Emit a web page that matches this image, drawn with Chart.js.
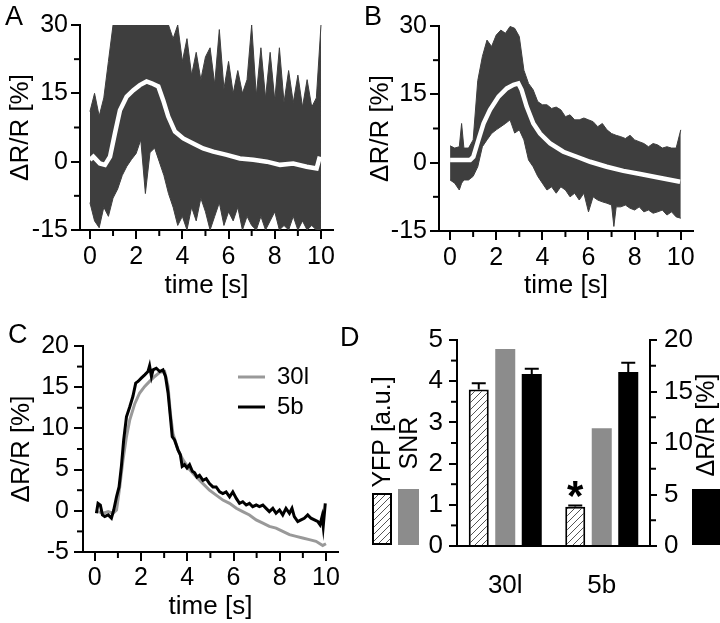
<!DOCTYPE html>
<html>
<head>
<meta charset="utf-8">
<script src="https://cdn.jsdelivr.net/npm/chart.js@4.4.1/dist/chart.umd.min.js"></script>
<style>
  body { margin: 0; background: #fff; width: 720px; height: 623px; position: relative; overflow: hidden; }
  canvas { position: absolute; }
  .panel { position: absolute; font: 27px "Liberation Sans", Arial, sans-serif; line-height: 1; color: #000; }
</style>
</head>
<body>
<canvas id="chartA" width="360" height="310" style="left:0;top:0"></canvas>
<canvas id="chartB" width="360" height="310" style="left:360px;top:0"></canvas>
<canvas id="chartC" width="360" height="313" style="left:0;top:310px"></canvas>
<canvas id="chartD" width="360" height="313" style="left:360px;top:310px"></canvas>
<div class="panel" style="left:5px;top:3px">A</div>
<div class="panel" style="left:364px;top:3px">B</div>
<div class="panel" style="left:8px;top:321px">C</div>
<div class="panel" style="left:340px;top:324px">D</div>
<script>
// ---- data ----
const tickT = [0, 2, 4, 6, 8, 10];
const minorT = [1, 3, 5, 7, 9];

// A: all traces (band) and mean
const bandA_t = [0, 0.2, 0.4, 0.6, 0.8, 1, 1.2, 1.4, 1.6, 1.8,
  2, 2.2, 2.4, 2.6, 2.8, 3, 3.2, 3.4, 3.6, 3.8,
  4, 4.2, 4.4, 4.6, 4.8, 5, 5.2, 5.4, 5.6, 5.8,
  6, 6.2, 6.4, 6.6, 6.8, 7, 7.2, 7.4, 7.6, 7.8,
  8, 8.2, 8.4, 8.6, 8.8, 9, 9.2, 9.4, 9.6, 9.8, 10];
const bandA_hi = [11, 15, 10, 14, 22, 30, 30, 30, 30, 30,
  30, 30, 30, 30, 30, 30, 30, 30, 27, 30,
  22, 27, 19, 24, 18, 23, 25, 17, 29, 16,
  22, 15, 20, 15, 18, 30, 14.5, 25, 14, 24,
  13.5, 25, 13, 20, 13, 19, 12, 18, 12, 14, 30];
const bandA_lo = [-9, -13, -14.5, -10, -12, -8, -6, -3, -1, 0.5,
  1.8, 4.8, -7, 2, 3, 0, -3, -7, -10, -14,
  -12, -15, -10, -13, -8, -11, -15, -12, -9, -14,
  -11, -13, -10, -15, -12, -14, -15, -12, -15, -13,
  -11, -15, -14, -15, -12, -15, -13, -15, -14, -15, -15];
const meanA_t = [0, 0.15, 0.43, 0.65, 0.87, 1.08, 1.3, 1.59, 1.88, 2.16, 2.45, 2.67, 2.96, 3.17, 3.39,
  3.68, 4.04, 4.47, 4.9, 5.34, 5.92, 6.49, 7.07, 7.65, 8.23, 8.8, 9.38, 9.81, 9.95];
const meanA = [0.4, 1.1, -0.4, -0.7, 1.1, 6.2, 11.3, 14.3, 15.7, 16.8, 17.6, 17.2, 16.5, 13.5, 9.9,
  6.6, 5.1, 4.0, 2.9, 2.2, 1.5, 0.7, 0.4, 0, -0.7, -0.4, -1.1, -1.5, 1.1];

// B
const bandB_t = [0, 0.2, 0.4, 0.5, 0.6, 0.8, 1, 1.2, 1.4, 1.6,
  1.8, 2, 2.2, 2.4, 2.6, 2.8, 3, 3.2, 3.4, 3.6,
  3.8, 4, 4.2, 4.4, 4.6, 4.8, 5, 5.2, 5.4, 5.6,
  5.8, 6, 6.2, 6.4, 6.6, 6.8, 7, 7.1, 7.2, 7.4,
  7.6, 7.8, 8, 8.2, 8.4, 8.6, 8.8, 9, 9.2, 9.4,
  9.6, 9.8, 10];
const bandB_hi = [3.7, 3.2, 3.5, 8.6, 3.2, 3.2, 5, 18, 23.3, 26.9,
  25.5, 28, 29.1, 28.4, 29.9, 29.5, 27.7, 20.3, 17.4, 16,
  13.4, 12.7, 12.7, 11.9, 12.2, 11.6, 10.1, 10.5, 9.4, 9.4,
  9.8, 9.4, 9, 7.9, 8.6, 7.2, 6.4, 6.2, 6, 5.7,
  5.3, 6, 5, 4.6, 4.2, 3.5, 4.2, 3.9, 3.2, 3.5,
  3.2, 3.2, 7.2];
const bandB_lo = [-3.8, -4.5, -6, -4.5, -3.8, -3.8, -3, -0.9, 3.5, 5,
  6.4, 7.2, 7.9, 8.6, 9.4, 6.5, 7.2, 5, 0.6, -0.9,
  -3, -4.5, -6, -5.3, -6.7, -5.3, -6, -7.5, -6.7, -8.2,
  -6.7, -10.8, -7.5, -8.2, -8.6, -8.9, -9.3, -14, -9.7, -9.7,
  -9.3, -10, -10.4, -9.7, -10.8, -10.4, -11.1, -10.8, -10.4, -11.5,
  -10.8, -11.9, -12.2];
const meanB_t = [0, 0.87, 1.01, 1.23, 1.45, 1.73, 2.1, 2.46, 2.75, 2.96, 3.1, 3.32,
  3.61, 3.9, 4.34, 4.91, 5.49, 6.07, 6.79, 7.51, 8.24, 8.96, 9.97];
const meanB = [0.6, 0.6, 1.3, 5, 8.6, 11.6, 14.5, 16.3, 17.1, 17.4, 16, 12.3,
  8.6, 6.4, 4.2, 2.4, 1.3, 0.2, -0.9, -1.8, -2.5, -3.2, -4.2];

// C: averaged traces
const c5b_t = [0.07, 0.14, 0.24, 0.33, 0.43, 0.58, 0.72, 0.82, 0.94, 1.05,
  1.15, 1.25, 1.37, 1.51, 1.65, 1.77, 1.87, 2.01, 2.16, 2.3,
  2.37, 2.45, 2.52, 2.66, 2.81, 2.95, 3.06, 3.17, 3.27, 3.35,
  3.45, 3.6, 3.7, 3.78, 3.88, 3.99, 4.1, 4.22, 4.32, 4.42,
  4.53, 4.68, 4.82, 4.96, 5.11, 5.25, 5.4, 5.54, 5.68, 5.83,
  5.97, 6.12, 6.26, 6.4, 6.55, 6.69, 6.83, 6.98, 7.12, 7.27,
  7.41, 7.55, 7.7, 7.84, 7.99, 8.13, 8.27, 8.42, 8.53, 8.63,
  8.78, 8.92, 9.06, 9.21, 9.35, 9.5, 9.64, 9.74, 9.83, 9.88, 9.97];
const c5b = [-0.3, 0.9, 0.7, -0.5, -0.7, -0.5, -0.9, 0.1, 1.7, 2.9,
  5.4, 8.6, 11.4, 12.6, 13.9, 15.5, 15.7, 16.1, 16.5, 16.9,
  17.6, 16.3, 17.1, 17.3, 16.9, 17.1, 16.3, 14.3, 11.4, 9,
  8.6, 7.4, 6.8, 5.4, 5.6, 5.2, 5.6, 4.8, 4.6, 4.1,
  4.3, 3.7, 3.9, 3.3, 2.9, 2.9, 2.3, 2.1, 2.3, 1.7,
  2.3, 1.5, 0.9, 1.1, 0.7, 0.9, 0.5, 0.7, 0.5, 0.7,
  0.3, -0.1, 0.3, -0.3, 0.1, -0.5, 0.3, -0.3, 0.3, -0.7,
  -1.3, -1.1, -0.9, -0.5, -0.9, -1.1, -1.3, -1.7, -0.7, -1.9, 0.9];
const c30_t = [0.14, 0.36, 0.58, 0.79, 0.94, 1.08, 1.22, 1.37, 1.51, 1.73,
  1.94, 2.16, 2.37, 2.59, 2.81, 3.02, 3.17, 3.27, 3.38, 3.6,
  3.81, 4.1, 4.39, 4.68, 4.96, 5.25, 5.54, 5.83, 6.12, 6.4,
  6.69, 6.98, 7.27, 7.55, 7.84, 8.13, 8.42, 8.71, 8.99, 9.28,
  9.57, 9.86, 10];
const c30 = [-0.1, -0.3, -0.1, -0.3, 0.1, 2.9, 6.2, 9, 11, 13,
  14.3, 15.1, 15.7, 16.3, 16.8, 16.9, 15.1, 11.8, 9.4, 7.4,
  6.2, 5, 4.1, 3.3, 2.5, 1.9, 1.3, 0.9, 0.3, -0.1,
  -0.5, -1.1, -1.5, -1.9, -2.1, -2.5, -2.9, -3.1, -3.3, -3.5,
  -3.7, -4.2, -4];

// D: bars
const groups = ['30l', '5b'];
const yfp = [3.8, 0.95];
const yfpErr = [0.15, 0.03];
const snr = [4.78, 2.86];
const dR = [16.7, 16.9];
const dRErr = [0.5, 0.9];

// ---- shared look ----
const FONT = '"Liberation Sans", Arial, sans-serif';
Chart.defaults.font.family = FONT;
Chart.defaults.color = '#000';
Chart.defaults.animation = false;

const pts = (ts, vs) => ts.map((t, i) => ({ x: t, y: vs[i] }));

function axis(o) {
  return {
    type: 'linear', position: o.pos, min: o.min, max: o.max,
    afterBuildTicks: s => { s.ticks = o.ticks.map(v => ({ value: v })); },
    afterFit: s => { if (s.isHorizontal()) s.height = o.size; else s.width = o.size; },
    border: { color: '#000', width: 2 },
    grid: { drawOnChartArea: false, color: '#000', lineWidth: 2, tickLength: o.tick || 9 },
    ticks: { autoSkip: false, maxRotation: 0, font: { size: o.font || 25 }, padding: o.pad },
    title: { display: !!o.title, text: o.title, font: { size: 26 }, padding: o.tpad }
  };
}

// minor ticks, placed through the chart's own scales
const minorTicks = {
  id: 'minorTicks',
  afterDraw(chart, args, opts) {
    const ctx = chart.ctx;
    ctx.save();
    ctx.strokeStyle = '#000';
    ctx.lineWidth = 2;
    for (const id of Object.keys(opts.axes)) {
      const s = chart.scales[id];
      opts.axes[id].forEach(v => {
        const p = s.getPixelForValue(v);
        ctx.beginPath();
        if (s.isHorizontal()) { ctx.moveTo(p, s.top); ctx.lineTo(p, s.top + opts.len); }
        else if (s.position === 'left') { ctx.moveTo(s.right, p); ctx.lineTo(s.right - opts.len, p); }
        else { ctx.moveTo(s.left, p); ctx.lineTo(s.left + opts.len, p); }
        ctx.stroke();
      });
    }
    ctx.restore();
  }
};

function traceChart(id, bandT, hi, lo, meanT, mean, lay) {
  return new Chart(document.getElementById(id), {
    type: 'line',
    data: {
      datasets: [
        { data: pts(bandT, hi), borderColor: '#3e3e3e', borderWidth: 1, order: 1 },
        { data: pts(bandT, lo), borderColor: '#3e3e3e', borderWidth: 1, fill: '-1', backgroundColor: '#3e3e3e', order: 1 },
        { data: pts(meanT, mean), borderColor: '#fff', borderWidth: 4.5, order: 0 }
      ]
    },
    options: {
      responsive: false,
      events: [],
      elements: { point: { radius: 0 }, line: { tension: 0 } },
      layout: { padding: { top: lay.top, right: lay.right } },
      scales: {
        x: axis({ pos: 'bottom', min: lay.xmin, max: lay.xmax, ticks: tickT, size: lay.xh, pad: 3, title: 'time [s]', tpad: 9 }),
        y: axis({ pos: 'left', min: -15, max: 30, ticks: [-15, 0, 15, 30], size: lay.yw, pad: 3, title: 'ΔR/R [%]', tpad: 5 })
      },
      plugins: {
        legend: { display: false }, tooltip: { enabled: false },
        minorTicks: { len: 6, axes: { x: minorT, y: [-7.5, 7.5, 22.5] } }
      }
    },
    plugins: [minorTicks]
  });
}

traceChart('chartA', bandA_t, bandA_hi, bandA_lo, meanA_t, meanA,
  { top: 25, right: 27, xh: 80, yw: 80, xmin: -0.43, xmax: 10.52 });
traceChart('chartB', bandB_t, bandB_hi, bandB_lo, meanB_t, meanB,
  { top: 26, right: 27, xh: 79, yw: 79, xmin: -0.48, xmax: 10.53 });

// C legend drawn inside the plot
const lineKey = {
  id: 'lineKey',
  afterDraw(chart, args, o) {
    const { ctx, chartArea: a } = chart;
    ctx.save();
    ctx.font = '24px ' + FONT;
    ctx.textBaseline = 'middle';
    ctx.fillStyle = '#000';
    chart.data.datasets.forEach((ds, i) => {
      const x = a.left + o.left, y = a.top + o.top + i * o.gap;
      ctx.strokeStyle = ds.borderColor;
      ctx.lineWidth = 3;
      ctx.beginPath(); ctx.moveTo(x, y); ctx.lineTo(x + 27, y); ctx.stroke();
      ctx.fillText(ds.label, x + 39, y);
    });
    ctx.restore();
  }
};

new Chart(document.getElementById('chartC'), {
  type: 'line',
  data: {
    datasets: [
      { label: '30l', data: pts(c30_t, c30), borderColor: '#999', borderWidth: 3, order: 1 },
      { label: '5b', data: pts(c5b_t, c5b), borderColor: '#000', borderWidth: 3, order: 0 }
    ]
  },
  options: {
    responsive: false,
    events: [],
    elements: { point: { radius: 0 }, line: { tension: 0 } },
    layout: { padding: { top: 36, right: 22 } },
    scales: {
      x: axis({ pos: 'bottom', min: -0.51, max: 10.52, ticks: tickT, size: 71, pad: 2, title: 'time [s]', tpad: 1 }),
      y: axis({ pos: 'left', min: -5, max: 20, ticks: [-5, 0, 5, 10, 15, 20], size: 83, pad: 5, title: 'ΔR/R [%]', tpad: 6 })
    },
    plugins: {
      legend: { display: false }, tooltip: { enabled: false },
      minorTicks: { len: 6, axes: { x: minorT, y: [-2.5, 2.5, 7.5, 12.5, 17.5] } },
      lineKey: { left: 155, top: 31, gap: 30 }
    }
  },
  plugins: [minorTicks, lineKey]
});

// D: hatch fill for the YFP bars
function hatch() {
  const c = document.createElement('canvas');
  c.width = 7; c.height = 7;
  const g = c.getContext('2d');
  g.fillStyle = '#fff'; g.fillRect(0, 0, 7, 7);
  g.strokeStyle = '#555'; g.lineWidth = 1;
  g.beginPath();
  g.moveTo(0, 7); g.lineTo(7, 0);
  g.moveTo(-1, 1); g.lineTo(1, -1);
  g.moveTo(6, 8); g.lineTo(8, 6);
  g.stroke();
  return g.createPattern(c, 'repeat');
}

const errorBars = {
  id: 'errorBars',
  afterDatasetsDraw(chart, args, o) {
    const ctx = chart.ctx;
    ctx.save();
    ctx.strokeStyle = '#000';
    ctx.lineWidth = 2;
    chart.data.datasets.forEach((ds, i) => {
      const s = chart.scales[ds.yAxisID];
      chart.getDatasetMeta(i).data.forEach((bar, j) => {
        if (ds.errors) {
          const top = s.getPixelForValue(ds.data[j] + ds.errors[j]);
          ctx.beginPath();
          ctx.moveTo(bar.x, bar.y); ctx.lineTo(bar.x, top);
          ctx.moveTo(bar.x - 7, top); ctx.lineTo(bar.x + 7, top);
          ctx.stroke();
        }
        if (ds.marks && ds.marks[j]) {
          ctx.font = 'bold 42px ' + FONT;
          ctx.fillStyle = '#000';
          ctx.textAlign = 'center';
          ctx.textBaseline = 'alphabetic';
          ctx.fillText(ds.marks[j], bar.x, bar.y + 3);
        }
      });
    });
    ctx.restore();
  }
};

// D: swatches and rotated labels on both sides
const sideKeys = {
  id: 'sideKeys',
  afterDraw(chart) {
    const { ctx, chartArea: a } = chart;
    const ds = chart.data.datasets;
    const swatch = (fill, x, y, w, h, edge) => {
      ctx.fillStyle = fill;
      ctx.fillRect(x, y, w, h);
      if (edge) { ctx.strokeStyle = '#000'; ctx.lineWidth = 2; ctx.strokeRect(x + 1, y + 1, w - 2, h - 2); }
    };
    const vtext = (t, x, y) => {
      ctx.save();
      ctx.translate(x, y);
      ctx.rotate(-Math.PI / 2);
      ctx.font = '25px ' + FONT;
      ctx.fillStyle = '#000';
      ctx.textAlign = 'center';
      ctx.textBaseline = 'middle';
      ctx.fillText(t, 0, 0);
      ctx.restore();
    };
    ctx.save();
    swatch(ds[0].backgroundColor, a.left - 85, a.bottom - 53, 20, 52, true);
    swatch(ds[1].backgroundColor, a.left - 59, a.bottom - 57, 21, 56, false);
    swatch(ds[2].backgroundColor, a.right + 42, a.bottom - 57, 30, 56, false);
    vtext(ds[0].label, a.left - 74, a.top + 92);
    vtext(ds[1].label, a.left - 47, a.top + 103);
    vtext(ds[2].label, a.right + 57, a.top + 85);
    ctx.restore();
  }
};

const dAxis = (pos, max, ticks, w, tick, pad) => ({
  type: 'linear', position: pos, min: 0, max: max,
  afterBuildTicks: s => { s.ticks = ticks.map(v => ({ value: v })); },
  afterFit: s => { s.width = w; },
  border: { color: '#000', width: 2 },
  grid: { drawOnChartArea: false, color: '#000', lineWidth: 2, tickLength: tick },
  ticks: { font: { size: 26 }, padding: pad }
});

new Chart(document.getElementById('chartD'), {
  type: 'bar',
  data: {
    labels: groups,
    datasets: [
      { label: 'YFP [a.u.]', data: yfp, errors: yfpErr, marks: ['', '*'], yAxisID: 'y',
        backgroundColor: hatch(), borderColor: '#000', borderWidth: 2 },
      { label: 'SNR', data: snr, yAxisID: 'y', backgroundColor: '#8c8c8c' },
      { label: 'ΔR/R [%]', data: dR, errors: dRErr, yAxisID: 'y2', backgroundColor: '#000' }
    ]
  },
  options: {
    responsive: false,
    events: [],
    layout: { padding: { top: 30 } },
    datasets: { bar: { categoryPercentage: 0.824, barPercentage: 0.755 } },
    scales: {
      x: {
        afterFit: s => { s.height = 77; },
        border: { color: '#000', width: 2 },
        grid: { display: false },
        ticks: { font: { size: 26 }, padding: 16 }
      },
      y: dAxis('left', 5, [0, 1, 2, 3, 4, 5], 97, 8, 6),
      y2: dAxis('right', 20, [0, 5, 10, 15, 20], 70, 7, 7)
    },
    plugins: {
      legend: { display: false }, tooltip: { enabled: false },
      minorTicks: { len: 6, axes: { y: [0.5, 1.5, 2.5, 3.5, 4.5], y2: [2.5, 7.5, 12.5, 17.5] } }
    }
  },
  plugins: [minorTicks, errorBars, sideKeys]
});
</script>
</body>
</html>
